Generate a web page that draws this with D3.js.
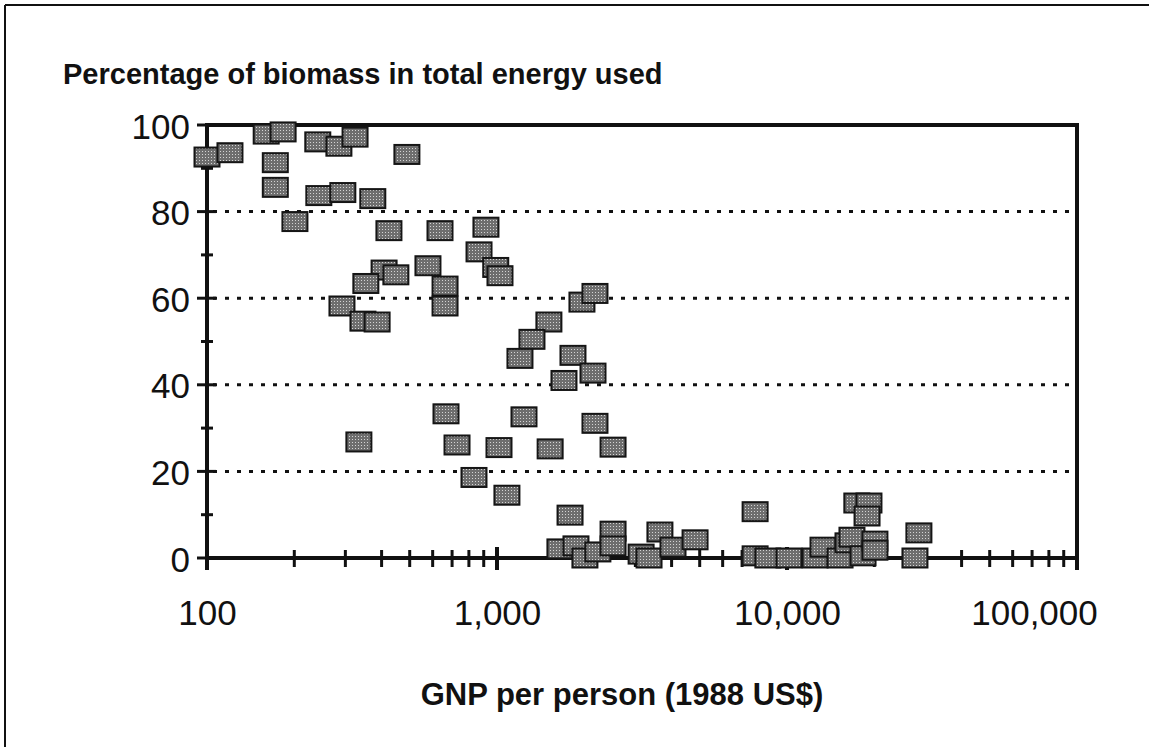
<!DOCTYPE html>
<html lang="en">
<head>
<meta charset="utf-8">
<style>
  html, body { margin: 0; padding: 0; background: white; }
  svg { display: block; background: white; font-family: 'Liberation Sans', Arial, Helvetica, sans-serif; }
  .tick-label { font-size: 35px; fill: #111; }
  .title { font-size: 29px; font-weight: bold; fill: #111; }
  .grid { stroke: #111; stroke-width: 3; stroke-dasharray: 4,8; }
  .frame { stroke: #111; fill: none; stroke-width: 4; }
  .pt { stroke: #151515; stroke-width: 2; }
</style>
</head>
<body>
<svg width="1149" height="747"></svg>
<script src="https://d3js.org/d3.v7.min.js"></script>
<script>

// GNP per person (1988 US$) and biomass share (%) for each country
const gnp = [
  100, 120, 160, 183, 172, 172, 241, 285, 324, 489,
  243, 294, 373, 201, 424, 636, 916, 867, 990, 1024,
  578, 408, 448, 353, 662, 662, 292, 345, 386, 1963,
  2177, 1510, 1320, 1200, 1828, 2143, 1702, 1239, 2177, 667,
  728, 334, 833, 1016, 1525, 2513, 1082, 1786, 7763, 1648,
  1872, 2010, 2228, 2513, 2513, 3140, 3344, 3646, 4045, 4819,
  7763, 8590, 10160, 12500, 13310, 15240, 16230, 16750, 17410, 19170,
  18880, 18290, 20100, 20100, 27620, 28500
]
const biomass = [
  92.6, 93.6, 97.9, 98.4, 91.3, 85.6, 96.1, 95.1, 97.2, 93.2,
  83.7, 84.4, 83.0, 77.7, 75.6, 75.6, 76.4, 70.7, 67.1, 65.2,
  67.5, 66.5, 65.4, 63.4, 62.8, 58.2, 58.2, 54.7, 54.5, 59.1,
  61.1, 54.5, 50.5, 46.1, 46.8, 42.7, 41.0, 32.6, 31.1, 33.3,
  26.1, 26.8, 18.6, 25.5, 25.2, 25.6, 14.5, 9.9, 10.7, 2.1,
  2.8, 0, 1.4, 6.2, 2.8, 0.9, 0, 6.0, 2.5, 4.2,
  0.5, 0, 0, 0, 2.5, 0, 3.5, 4.8, 12.7, 12.7,
  9.7, 0.5, 3.9, 1.8, 0, 5.8
]

const yTicks = [0, 20, 40, 60, 80, 100]
const yMinor = [10, 30, 50, 70, 90]
const gridTicks = [20, 40, 60, 80]
const xTicks = [100, 1000, 10000, 100000]

const width = 1149
const height = 747
const margin = { top: 125, bottom: 189, left: 207, right: 72 }

const x = d3.scaleLog()
  .domain([100, 100000])
  .range([margin.left, width - margin.right])
const y = d3.scaleLinear()
  .domain([0, 100])
  .range([height - margin.bottom, margin.top])

const svg = d3.select("svg")

// dithered grey fill like the printed squares
const pat = svg.append("defs").append("pattern")
  .attr("id", "dots")
  .attr("width", 3).attr("height", 3)
  .attr("patternUnits", "userSpaceOnUse")
pat.append("rect").attr("width", 3).attr("height", 3).attr("fill", "#6e6e6e")
pat.append("rect").attr("x", 1).attr("y", 1).attr("width", 1).attr("height", 1).attr("fill", "#d4d4d4")

// outer border (left and top only)
svg.append("line").attr("x1", 5).attr("y1", 5).attr("x2", width).attr("y2", 5)
  .attr("stroke", "#111").attr("stroke-width", 2)
svg.append("line").attr("x1", 5).attr("y1", 5).attr("x2", 5).attr("y2", height)
  .attr("stroke", "#111").attr("stroke-width", 2)

svg.append("text")
  .attr("class", "title")
  .attr("x", 63).attr("y", 84)
  .text("Percentage of biomass in total energy used")

// dotted grid
svg.append("g").selectAll("line")
  .data(gridTicks)
  .join("line")
  .attr("class", "grid")
  .attr("x1", x(100) + 6).attr("x2", x(100000) - 2)
  .attr("y1", d => y(d)).attr("y2", d => y(d))

// frame
svg.append("rect")
  .attr("class", "frame")
  .attr("x", x(100)).attr("y", y(100))
  .attr("width", x(100000) - x(100))
  .attr("height", y(0) - y(100))

// y axis labels
const yAxis = d3.axisLeft(y).tickValues(yTicks).tickSize(0).tickPadding(17)
const gy = svg.append("g")
  .attr("transform", "translate(" + margin.left + ",0)")
  .call(yAxis)
gy.select(".domain").remove()
gy.selectAll("text")
  .attr("class", "tick-label")
  .attr("dy", null)
  .attr("y", 13)
  .attr("font-family", null).attr("font-size", null)

// y ticks crossing the axis
svg.append("g").selectAll("line")
  .data(yTicks)
  .join("line")
  .attr("x1", x(100) - 10).attr("x2", x(100) + 9)
  .attr("y1", d => y(d)).attr("y2", d => y(d))
  .attr("stroke", "#111").attr("stroke-width", 3)
svg.append("g").selectAll("line")
  .data(yMinor)
  .join("line")
  .attr("x1", x(100) - 6).attr("x2", x(100) + 6)
  .attr("y1", d => y(d)).attr("y2", d => y(d))
  .attr("stroke", "#111").attr("stroke-width", 3)

// x axis labels (the last one is pulled in to stay inside the box)
const xAxis = d3.axisBottom(x).tickValues(xTicks).tickFormat(d3.format(",")).tickSize(0)
const gx = svg.append("g")
  .attr("transform", "translate(0," + y(0) + ")")
  .call(xAxis)
gx.select(".domain").remove()
gx.selectAll("text")
  .attr("class", "tick-label")
  .attr("dy", null)
  .attr("y", 67)
  .attr("dx", d => d === 100000 ? -43 : 0)
  .attr("font-family", null).attr("font-size", null)

// log ticks crossing the x axis
svg.append("g").selectAll("line")
  .data(x.ticks())
  .join("line")
  .attr("x1", d => x(d)).attr("x2", d => x(d))
  .attr("y1", d => y(0) - (xTicks.includes(d) ? 11 : 8))
  .attr("y2", d => y(0) + (xTicks.includes(d) ? 12 : 9))
  .attr("stroke", "#111").attr("stroke-width", d => xTicks.includes(d) ? 4 : 3)

svg.append("text")
  .attr("class", "title")
  .attr("x", 622).attr("y", 705)
  .attr("text-anchor", "middle")
  .style("font-size", "31px")
  .text("GNP per person (1988 US$)")

// points
svg.append("g").selectAll("rect")
  .data(gnp.map((g, i) => ({ g: g, b: biomass[i] })))
  .join("rect")
  .attr("class", "pt")
  .attr("x", d => x(d.g) - 12.5)
  .attr("y", d => y(d.b) - 9.5)
  .attr("width", 25).attr("height", 19)
  .attr("fill", "url(#dots)")

</script>
</body>
</html>
